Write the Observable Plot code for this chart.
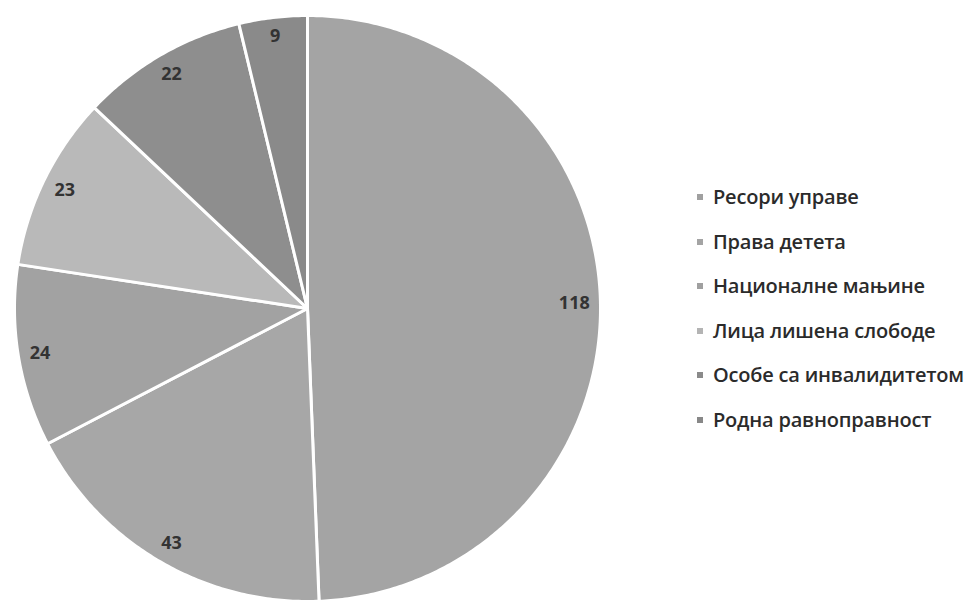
<!DOCTYPE html>
<html>
<head>
<meta charset="utf-8">
<script src="https://cdn.jsdelivr.net/npm/d3@7"></script>
<script src="https://cdn.jsdelivr.net/npm/@observablehq/plot@0.6"></script>
<style>
  html, body { margin: 0; padding: 0; background: #fff; }
  #wrap { position: relative; width: 976px; height: 604px; }
  #legend { position: absolute; left: 697px; top: 185px; font-family: "Open Sans", sans-serif; font-weight: 600; font-size: 20px; color: #2b2b2b; letter-spacing: -0.2px; }
  #legend div { height: 44.6px; line-height: 24px; display: flex; align-items: flex-start; white-space: nowrap; }
  #legend span.sw { display: inline-block; width: 6px; height: 6px; margin: 9px 10px 0 0; flex: none; }
</style>
</head>
<body>
<div id="wrap"></div>
<script>
const categories = ["Ресори управе", "Права детета", "Националне мањине", "Лица лишена слободе", "Особе са инвалидитетом", "Родна равноправност"];
const values = [118, 43, 24, 23, 22, 9];
const colors = ["#a4a4a4", "#a7a7a7", "#a2a2a2", "#b9b9b9", "#8e8e8e", "#8a8a8a"];
const legendColors = ["#a0a0a0", "#a4a4a4", "#a0a0a0", "#b4b4b4", "#8a8a8a", "#888888"];

const data = categories.map((c, i) => ({category: c, value: values[i]}));
const arcs = d3.pie().value(d => d.value).sort(null)(data);

// Slice polygons from pie angles (clockwise from 12 o'clock)
const pts = [];
arcs.forEach(a => {
  const cat = a.data.category;
  pts.push({cat, x: 0, y: 0});
  const n = Math.max(2, Math.ceil((a.endAngle - a.startAngle) / 0.01));
  for (let k = 0; k <= n; k++) {
    const t = a.startAngle + (a.endAngle - a.startAngle) * k / n;
    pts.push({cat, x: Math.sin(t), y: Math.cos(t)});
  }
  pts.push({cat, x: 0, y: 0});
});

const R = 293;
const labels = arcs.map(a => {
  const m = (a.startAngle + a.endAngle) / 2;
  const s = String(a.data.value);
  const w = s.length * 10.5, h = 15;
  const half = Math.abs(Math.sin(m)) * w / 2 + Math.abs(Math.cos(m)) * h / 2;
  const r = (0.965 * R - half) / R;
  return {label: s, x: Math.sin(m) * r, y: Math.cos(m) * r};
});

const cx = 307, cy = 308;
const chart = Plot.plot({
  width: 976,
  height: 604,
  marginLeft: cx - R,
  marginRight: 976 - (cx + R),
  marginTop: cy - R,
  marginBottom: 604 - (cy + R),
  x: {domain: [-1, 1], axis: null},
  y: {domain: [-1, 1], axis: null},
  color: {domain: categories, range: colors},
  marks: [
    Plot.line(pts, {x: "x", y: "y", z: "cat", fill: "cat", stroke: "white", strokeWidth: 3, strokeLinejoin: "round", curve: "linear"}),
    Plot.text(labels, {x: "x", y: "y", text: "label", fontSize: 18, fontWeight: "bold", fill: "#333", fontFamily: "Open Sans, sans-serif"})
  ]
});
chart.style.fontFamily = "Open Sans, sans-serif";
document.getElementById("wrap").appendChild(chart);

const legend = document.createElement("div");
legend.id = "legend";
categories.forEach((c, i) => {
  const row = document.createElement("div");
  const sw = document.createElement("span");
  sw.className = "sw";
  sw.style.background = legendColors[i];
  row.appendChild(sw);
  row.appendChild(document.createTextNode(c));
  legend.appendChild(row);
});
document.getElementById("wrap").appendChild(legend);
</script>
</body>
</html>
